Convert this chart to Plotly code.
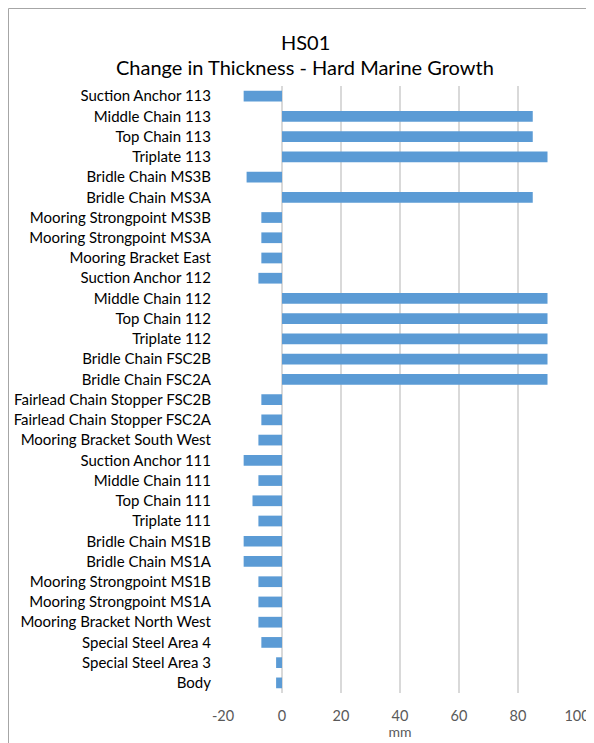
import plotly.graph_objects as go

categories = [
    "Suction Anchor 113", "Middle Chain 113", "Top Chain 113", "Triplate 113",
    "Bridle Chain MS3B", "Bridle Chain MS3A", "Mooring Strongpoint MS3B",
    "Mooring Strongpoint MS3A", "Mooring Bracket East", "Suction Anchor 112",
    "Middle Chain 112", "Top Chain 112", "Triplate 112", "Bridle Chain FSC2B",
    "Bridle Chain FSC2A", "Fairlead Chain Stopper FSC2B", "Fairlead Chain Stopper FSC2A",
    "Mooring Bracket South West", "Suction Anchor 111", "Middle Chain 111",
    "Top Chain 111", "Triplate 111", "Bridle Chain MS1B", "Bridle Chain MS1A",
    "Mooring Strongpoint MS1B", "Mooring Strongpoint MS1A", "Mooring Bracket North West",
    "Special Steel Area 4", "Special Steel Area 3", "Body",
]
values = [
    -13, 85, 85, 90, -12, 85, -7, -7, -7, -8,
    90, 90, 90, 90, 90, -7, -7, -8, -13, -8,
    -10, -8, -13, -13, -8, -8, -8, -7, -2, -2,
]
x_ticks = [-20, 0, 20, 40, 60, 80, 100]

OFF = 8  # page body margin
W, H = 594 - OFF, 743 - OFF
# plot area in screen pixels
SL, SR, ST, SB = 223, 577, 86, 693
L, T = SL - OFF, ST - OFF
R, B = W - (SR - OFF), H - (SB - OFF)
pw, ph = W - L - R, H - T - B

fig = go.Figure(go.Bar(
    y=categories, x=values, orientation="h",
    marker=dict(color="#5B9BD5", line=dict(width=0)),
))

def fx(X):  # figure pixel -> paper x
    return (X - L) / pw

def fy(Y):  # figure pixel -> paper y
    return (H - B - Y) / ph

def px_x(X):  # screen pixel -> paper x
    return fx(X - OFF)

def px_y(Y):
    return fy(Y - OFF)

border = dict(color="#A6A6A6", width=1)

fig.update_layout(
    width=W, height=H,
    margin=dict(l=L, r=R, t=T, b=B, autoexpand=False),
    paper_bgcolor="white", plot_bgcolor="white",
    font=dict(family="Lato", size=15, color="#404040"),
    bargap=0.47,
    showlegend=False,
    xaxis=dict(
        range=[-20, 100], tickvals=x_ticks, ticktext=[str(v) for v in x_ticks],
        showgrid=True, gridcolor="#D9D9D9", gridwidth=2,
        zeroline=True, zerolinecolor="#D9D9D9", zerolinewidth=2,
        showline=False, ticks="", tickfont=dict(size=14.5, color="#595959"),
        ticklabelstandoff=12, automargin=False,
        title=dict(text="mm", font=dict(size=14, color="#595959"), standoff=2),
    ),
    yaxis=dict(
        autorange="reversed", showgrid=False, showline=False, ticks="",
        tickfont=dict(size=15, color="#000000"), ticklabelstandoff=11, automargin=False,
    ),
    shapes=[
        dict(type="line", xref="paper", yref="paper",
             x0=fx(0.5), x1=fx(W), y0=fy(0.5), y1=fy(0.5), line=border),
        dict(type="line", xref="paper", yref="paper",
             x0=fx(0.5), x1=fx(0.5), y0=fy(0.5), y1=fy(H), line=border),
    ],
    annotations=[
        dict(text="HS01", xref="paper", yref="paper", x=px_x(305), y=px_y(42),
             showarrow=False, font=dict(size=20, color="#000000"), xanchor="center", yanchor="middle"),
        dict(text="Change in Thickness - Hard Marine Growth", xref="paper", yref="paper",
             x=px_x(305), y=px_y(67), showarrow=False,
             font=dict(size=20, color="#000000"), xanchor="center", yanchor="middle"),
    ],
)

fig.write_html("out.html")
